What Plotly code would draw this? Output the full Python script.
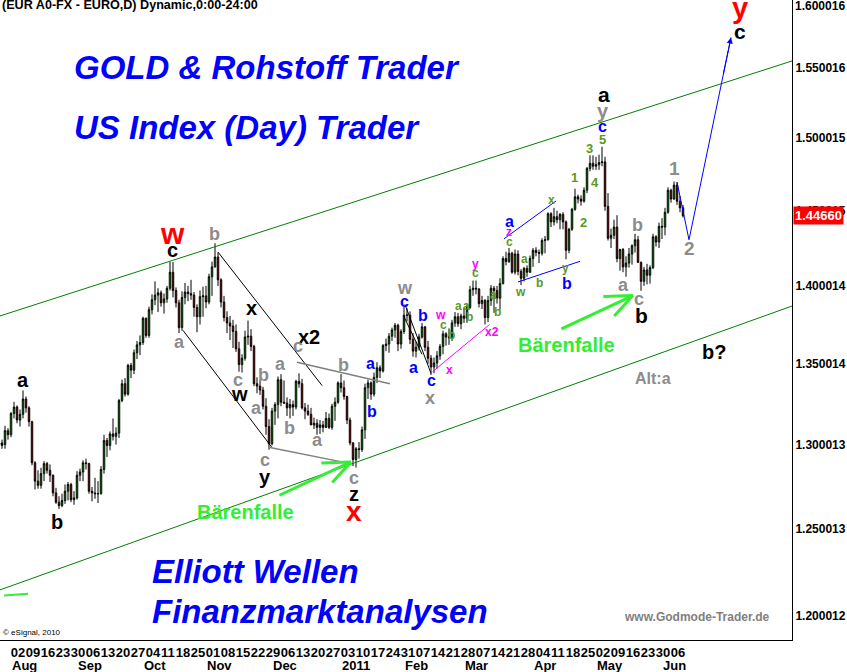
import numpy as np
import pandas as pd
import plotly.graph_objects as go

# ---------------- data ----------------
dates = pd.bdate_range("2010-07-27", "2011-06-10")

opens = [1.3000, 1.3010, 1.3000, 1.3085,
 1.3060, 1.3190, 1.3230, 1.3150, 1.3185, 1.3280, 1.3225, 1.3140, 1.2890, 1.2780,
 1.2755, 1.2825, 1.2885, 1.2845, 1.2815, 1.2710, 1.2655, 1.2635, 1.2665, 1.2720,
 1.2760, 1.2670, 1.2680, 1.2815, 1.2835, 1.2890, 1.2885, 1.2720, 1.2710, 1.2705,
 1.2705, 1.2850, 1.3025, 1.2995, 1.3065, 1.3050, 1.3070, 1.3270, 1.3375, 1.3310,
 1.3490, 1.3460, 1.3570, 1.3620, 1.3635, 1.3790, 1.3680, 1.3845, 1.3910, 1.3940,
 1.3955, 1.3890, 1.3915, 1.3985, 1.4090, 1.3970, 1.3890, 1.3730, 1.3925, 1.3960,
 1.3950, 1.3940, 1.3860, 1.3800, 1.3930, 1.3935, 1.3895, 1.4060, 1.4125, 1.4190,
 1.4040, 1.3895, 1.3795, 1.3760, 1.3740, 1.3705, 1.3595, 1.3495, 1.3535, 1.3670,
 1.3675, 1.3610, 1.3375, 1.3360, 1.3335, 1.3235, 1.3110, 1.3005, 1.3205, 1.3245,
 1.3400, 1.3260, 1.3255, 1.3225, 1.3245, 1.3230, 1.3390, 1.3375, 1.3225, 1.3205,
 1.3185, 1.3120, 1.3130, 1.3105, 1.3120, 1.3105, 1.3160, 1.3105, 1.3235, 1.3260,
 1.3380, 1.3350, 1.3295, 1.3150, 1.3010, 1.2910, 1.2975, 1.2970, 1.3090, 1.3350,
 1.3380, 1.3310, 1.3415, 1.3475, 1.3455, 1.3615, 1.3625, 1.3675, 1.3715, 1.3745,
 1.3625, 1.3705, 1.3810, 1.3810, 1.3655, 1.3580, 1.3605, 1.3670, 1.3735, 1.3605,
 1.3535, 1.3480, 1.3505, 1.3550, 1.3610, 1.3690, 1.3670, 1.3665, 1.3760, 1.3800,
 1.3755, 1.3805, 1.3790, 1.3860, 1.3975, 1.3985, 1.3980, 1.3885, 1.3905, 1.3795,
 1.3905, 1.3985, 1.3970, 1.3920, 1.4015, 1.4180, 1.4160, 1.4215, 1.4090, 1.4210,
 1.4095, 1.4050, 1.4115, 1.4090, 1.4180, 1.4235, 1.4220, 1.4215, 1.4300, 1.4305,
 1.4480, 1.4425, 1.4460, 1.4440, 1.4475, 1.4425, 1.4235, 1.4375, 1.4510, 1.4595,
 1.4580, 1.4565, 1.4640, 1.4790, 1.4825, 1.4805, 1.4815, 1.4830, 1.4835, 1.4530,
 1.4315, 1.4335, 1.4390, 1.4180, 1.4240, 1.4125, 1.4150, 1.4210, 1.4265, 1.4305,
 1.4155, 1.4030, 1.4105, 1.4070, 1.4120, 1.4325, 1.4290, 1.4395, 1.4390, 1.4490,
 1.4640, 1.4580, 1.4675, 1.4565, 1.4520]

highs = [1.3045, 1.3030, 1.3115, 1.3100,
 1.3200, 1.3262, 1.3240, 1.3215, 1.3333, 1.3295, 1.3235, 1.3145, 1.2900, 1.2845,
 1.2860, 1.2900, 1.2895, 1.2880, 1.2820, 1.2740, 1.2690, 1.2705, 1.2760, 1.2775,
 1.2770, 1.2720, 1.2840, 1.2855, 1.2905, 1.2915, 1.2890, 1.2745, 1.2800, 1.2780,
 1.2870, 1.3060, 1.3040, 1.3080, 1.3160, 1.3105, 1.3280, 1.3400, 1.3410, 1.3500,
 1.3505, 1.3590, 1.3645, 1.3680, 1.3800, 1.3795, 1.3865, 1.3945, 1.4030, 1.3985,
 1.3970, 1.3950, 1.4000, 1.4160, 1.4157, 1.3990, 1.3910, 1.3965, 1.4020, 1.4000,
 1.4040, 1.3960, 1.3880, 1.3970, 1.3995, 1.4000, 1.4080, 1.4160, 1.4282, 1.4220,
 1.4050, 1.3935, 1.3835, 1.3805, 1.3780, 1.3750, 1.3640, 1.3560, 1.3710, 1.3775,
 1.3720, 1.3620, 1.3415, 1.3395, 1.3355, 1.3285, 1.3155, 1.3225, 1.3260, 1.3420,
 1.3435, 1.3395, 1.3290, 1.3280, 1.3270, 1.3400, 1.3440, 1.3405, 1.3255, 1.3245,
 1.3225, 1.3165, 1.3155, 1.3150, 1.3145, 1.3200, 1.3190, 1.3250, 1.3290, 1.3390,
 1.3435, 1.3395, 1.3300, 1.3165, 1.3015, 1.2985, 1.3015, 1.3110, 1.3375, 1.3400,
 1.3390, 1.3445, 1.3510, 1.3490, 1.3625, 1.3660, 1.3695, 1.3730, 1.3760, 1.3755,
 1.3720, 1.3862, 1.3855, 1.3835, 1.3695, 1.3640, 1.3690, 1.3760, 1.3740, 1.3645,
 1.3555, 1.3540, 1.3580, 1.3625, 1.3710, 1.3700, 1.3725, 1.3780, 1.3830, 1.3825,
 1.3820, 1.3860, 1.3880, 1.4000, 1.4035, 1.4035, 1.3985, 1.3935, 1.3915, 1.3935,
 1.4005, 1.4000, 1.4000, 1.4050, 1.4195, 1.4225, 1.4250, 1.4225, 1.4240, 1.4235,
 1.4110, 1.4125, 1.4135, 1.4200, 1.4250, 1.4255, 1.4240, 1.4315, 1.4330, 1.4490,
 1.4490, 1.4520, 1.4500, 1.4485, 1.4490, 1.4435, 1.4385, 1.4520, 1.4650, 1.4610,
 1.4605, 1.4660, 1.4800, 1.4880, 1.4880, 1.4870, 1.4885, 1.4940, 1.4870, 1.4620,
 1.4380, 1.4440, 1.4470, 1.4245, 1.4250, 1.4195, 1.4250, 1.4275, 1.4345, 1.4330,
 1.4160, 1.4125, 1.4145, 1.4135, 1.4345, 1.4335, 1.4420, 1.4450, 1.4520, 1.4660,
 1.4650, 1.4700, 1.4695, 1.4600, 1.4540]

lows = [1.2960, 1.2975, 1.2975, 1.3030,
 1.3045, 1.3160, 1.3130, 1.3110, 1.3160, 1.3195, 1.3110, 1.2875, 1.2730, 1.2735,
 1.2735, 1.2780, 1.2825, 1.2775, 1.2690, 1.2645, 1.2615, 1.2625, 1.2645, 1.2665,
 1.2655, 1.2640, 1.2670, 1.2780, 1.2780, 1.2850, 1.2705, 1.2660, 1.2675, 1.2650,
 1.2700, 1.2825, 1.2925, 1.2965, 1.3025, 1.3000, 1.3040, 1.3260, 1.3295, 1.3300,
 1.3410, 1.3435, 1.3530, 1.3555, 1.3620, 1.3665, 1.3665, 1.3815, 1.3875, 1.3830,
 1.3865, 1.3820, 1.3890, 1.3970, 1.3925, 1.3860, 1.3695, 1.3710, 1.3880, 1.3900,
 1.3910, 1.3800, 1.3700, 1.3750, 1.3800, 1.3855, 1.3880, 1.3935, 1.4120, 1.4000,
 1.3860, 1.3770, 1.3695, 1.3650, 1.3600, 1.3575, 1.3450, 1.3445, 1.3520, 1.3620,
 1.3580, 1.3360, 1.3315, 1.3305, 1.3215, 1.3060, 1.2969, 1.2995, 1.3120, 1.3160,
 1.3235, 1.3250, 1.3175, 1.3160, 1.3175, 1.3215, 1.3350, 1.3215, 1.3155, 1.3175,
 1.3120, 1.3095, 1.3060, 1.3065, 1.3075, 1.3100, 1.3095, 1.3090, 1.3145, 1.3250,
 1.3320, 1.3275, 1.3125, 1.2995, 1.2870, 1.2861, 1.2915, 1.2955, 1.3035, 1.3280,
 1.3275, 1.3295, 1.3380, 1.3410, 1.3445, 1.3580, 1.3570, 1.3645, 1.3665, 1.3580,
 1.3595, 1.3690, 1.3770, 1.3625, 1.3545, 1.3540, 1.3585, 1.3660, 1.3580, 1.3500,
 1.3430, 1.3440, 1.3470, 1.3525, 1.3560, 1.3615, 1.3620, 1.3645, 1.3735, 1.3735,
 1.3720, 1.3760, 1.3760, 1.3850, 1.3935, 1.3945, 1.3860, 1.3850, 1.3750, 1.3765,
 1.3870, 1.3825, 1.3885, 1.3845, 1.4010, 1.4135, 1.4150, 1.4080, 1.4075, 1.4070,
 1.4005, 1.4030, 1.4060, 1.4085, 1.4125, 1.4195, 1.4150, 1.4200, 1.4215, 1.4300,
 1.4390, 1.4400, 1.4415, 1.4375, 1.4375, 1.4175, 1.4215, 1.4365, 1.4500, 1.4550,
 1.4535, 1.4555, 1.4620, 1.4770, 1.4780, 1.4780, 1.4780, 1.4805, 1.4500, 1.4300,
 1.4250, 1.4310, 1.4155, 1.4100, 1.4090, 1.4060, 1.4120, 1.4140, 1.4220, 1.4150,
 1.3968, 1.4000, 1.4010, 1.4015, 1.4110, 1.4260, 1.4250, 1.4310, 1.4335, 1.4480,
 1.4555, 1.4575, 1.4540, 1.4490, 1.4455]

closes = [1.3010, 1.2995, 1.3085, 1.3060,
 1.3190, 1.3230, 1.3150, 1.3185, 1.3280, 1.3225, 1.3140, 1.2890, 1.2780, 1.2755,
 1.2825, 1.2885, 1.2845, 1.2815, 1.2710, 1.2655, 1.2635, 1.2665, 1.2720, 1.2760,
 1.2670, 1.2680, 1.2815, 1.2835, 1.2890, 1.2885, 1.2720, 1.2710, 1.2705, 1.2705,
 1.2850, 1.3025, 1.2995, 1.3065, 1.3050, 1.3070, 1.3270, 1.3375, 1.3310, 1.3490,
 1.3460, 1.3570, 1.3620, 1.3635, 1.3790, 1.3680, 1.3845, 1.3910, 1.3940, 1.3955,
 1.3890, 1.3915, 1.3985, 1.4090, 1.3970, 1.3890, 1.3730, 1.3925, 1.3960, 1.3950,
 1.3940, 1.3860, 1.3800, 1.3930, 1.3935, 1.3895, 1.4060, 1.4125, 1.4190, 1.4040,
 1.3895, 1.3795, 1.3760, 1.3740, 1.3705, 1.3595, 1.3495, 1.3535, 1.3670, 1.3675,
 1.3610, 1.3375, 1.3360, 1.3335, 1.3235, 1.3110, 1.3005, 1.3205, 1.3245, 1.3400,
 1.3260, 1.3255, 1.3225, 1.3245, 1.3230, 1.3390, 1.3375, 1.3225, 1.3205, 1.3185,
 1.3120, 1.3130, 1.3105, 1.3120, 1.3105, 1.3160, 1.3105, 1.3235, 1.3260, 1.3380,
 1.3350, 1.3295, 1.3150, 1.3010, 1.2910, 1.2975, 1.2970, 1.3090, 1.3350, 1.3380,
 1.3310, 1.3415, 1.3475, 1.3455, 1.3615, 1.3625, 1.3675, 1.3715, 1.3745, 1.3625,
 1.3705, 1.3810, 1.3810, 1.3655, 1.3580, 1.3605, 1.3670, 1.3735, 1.3605, 1.3535,
 1.3480, 1.3505, 1.3550, 1.3610, 1.3690, 1.3670, 1.3665, 1.3760, 1.3800, 1.3755,
 1.3805, 1.3790, 1.3860, 1.3975, 1.3985, 1.3980, 1.3885, 1.3905, 1.3795, 1.3905,
 1.3985, 1.3970, 1.3920, 1.4015, 1.4180, 1.4160, 1.4215, 1.4090, 1.4210, 1.4095,
 1.4050, 1.4115, 1.4090, 1.4180, 1.4235, 1.4220, 1.4215, 1.4300, 1.4305, 1.4480,
 1.4425, 1.4460, 1.4440, 1.4475, 1.4425, 1.4235, 1.4375, 1.4510, 1.4595, 1.4580,
 1.4565, 1.4640, 1.4790, 1.4825, 1.4805, 1.4815, 1.4830, 1.4835, 1.4530, 1.4315,
 1.4335, 1.4390, 1.4180, 1.4240, 1.4125, 1.4150, 1.4210, 1.4265, 1.4305, 1.4155,
 1.4030, 1.4105, 1.4070, 1.4120, 1.4325, 1.4290, 1.4395, 1.4390, 1.4490, 1.4640,
 1.4580, 1.4675, 1.4565, 1.4520, 1.4466]

price_ticks = [1.200012, 1.250013, 1.300013, 1.350014, 1.400014,
               1.450015, 1.500015, 1.550016]
price_tick_labels = ["1.200012", "1.250013", "1.300013", "1.350014", "1.400014",
                     "1.450015", "1.500015", "1.550016"]
top_tick_label = "1.600016"
last_price = 1.44660

# trading-day index (0 = 2 Aug 2010)
base = list(dates).index(pd.Timestamp("2010-08-02"))
xi = np.arange(len(dates)) - base

# drawn trend lines (trading-day index, price)
upper_channel_x, upper_channel_y = [-3.67, 260.33], [1.3805, 1.5551]
lower_channel_x, lower_channel_y = [-3.67, 260.33], [1.2147, 1.3869]
lime_stub_x, lime_stub_y = [-2.3, 5.7], [1.2115, 1.2125]
black_lines = [([69.0, 103.7], [1.4223, 1.3363]),
               ([57.3, 87.0], [1.3713, 1.2982])]
gray_lines = [([95.3, 126.3], [1.3510, 1.3375]),
              ([86.3, 112.3], [1.2982, 1.2888])]
feb_black_lines = [([131.3, 140.0], [1.3880, 1.3440]),
                   ([131.0, 137.0], [1.3800, 1.3560])]
magenta_lines = [([140.5, 159.5], [1.3450, 1.3750])]
blue_lines = [([164.3, 181.7], [1.4311, 1.4567]),
              ([169.0, 189.7], [1.4026, 1.4162])]
projection_x = [222.0, 226.0, 240.0]
projection_y = [1.4696, 1.4305, 1.5722]

BK, GY, BU, GN, MG, RD = "#000000", "#8C8C8C", "#0000FF", "#5A9A1C", "#FF00FF", "#FF0000"
# wave labels: text, trading-day index, price, colour, size
wave_labels = [
    ("a", 4.0, 1.3400, BK, 20), ("b", 15.3, 1.2540, BK, 20),
    ("w", 53.7, 1.4345, RD, 30), ("c", 53.7, 1.4235, BK, 20),
    ("b", 67.7, 1.4345, GY, 18), ("a", 56.3, 1.3637, GY, 18),
    ("x", 80.0, 1.3855, BK, 20), ("x2", 99.3, 1.3670, BK, 20),
    ("c", 95.7, 1.3610, GY, 18), ("a", 89.7, 1.3500, GY, 18),
    ("c", 75.7, 1.3400, GY, 18), ("w", 76.3, 1.3312, BK, 20),
    ("b", 84.3, 1.3430, GY, 18), ("a", 81.7, 1.3225, GY, 18),
    ("b", 92.7, 1.3100, GY, 18), ("a", 102.3, 1.3025, GY, 18),
    ("b", 110.7, 1.3490, GY, 18), ("a", 119.7, 1.3500, BU, 16),
    ("b", 120.3, 1.3205, BU, 16), ("c", 84.7, 1.2905, GY, 18),
    ("y", 84.7, 1.2805, BK, 20), ("c", 114.3, 1.2800, GY, 18),
    ("z", 114.3, 1.2705, BK, 20), ("x", 114.3, 1.2600, RD, 28),
    ("w", 131.3, 1.3987, GY, 18), ("c", 131.3, 1.3900, BU, 16),
    ("b", 137.3, 1.3805, BU, 16), ("a", 134.0, 1.3475, BU, 16),
    ("c", 140.3, 1.3395, BU, 16), ("x", 139.7, 1.3287, GY, 18),
    ("x", 146.3, 1.3460, MG, 12), ("w", 143.3, 1.3810, MG, 12),
    ("c", 144.3, 1.3745, GN, 12), ("a", 149.0, 1.3870, GN, 12),
    ("b", 146.7, 1.3680, GN, 12), ("y", 154.7, 1.4145, MG, 12),
    ("c", 154.7, 1.4085, GN, 12), ("a", 151.7, 1.3870, GN, 12),
    ("b", 152.7, 1.3800, GN, 12), ("a", 160.7, 1.3940, GN, 12),
    ("b", 162.0, 1.3830, GN, 12), ("x2", 160.3, 1.3700, MG, 12),
    ("a", 166.0, 1.4425, BU, 16), ("z", 166.0, 1.4360, MG, 12),
    ("c", 166.0, 1.4293, GN, 12), ("a", 171.0, 1.4180, GN, 12),
    ("b", 176.0, 1.4020, GN, 12), ("w", 169.7, 1.3960, GN, 12),
    ("x", 180.3, 1.4573, GN, 12), ("y", 184.7, 1.4120, GN, 12),
    ("b", 185.3, 1.4013, BU, 16),
    ("1", 187.7, 1.4724, GN, 13), ("2", 190.7, 1.4424, GN, 13),
    ("3", 192.7, 1.4931, GN, 13), ("4", 194.7, 1.4696, GN, 13),
    ("5", 197.0, 1.4994, GN, 13), ("c", 197.0, 1.5079, BU, 16),
    ("y", 197.3, 1.5192, GY, 20), ("a", 197.7, 1.5310, BK, 21),
    ("a", 204.3, 1.4007, GY, 18), ("b", 208.7, 1.4404, GY, 18),
    ("c", 209.3, 1.3913, GY, 18), ("b", 210.3, 1.3806, BK, 21),
    ("1", 221.3, 1.4786, GY, 19), ("2", 226.3, 1.4245, GY, 19),
    ("y", 243.0, 1.5941, RD, 29), ("c", 243.0, 1.5763, BK, 21),
    ("b?", 234.3, 1.3575, BK, 20), ("Alt:a", 214.0, 1.3410, GY, 16),
]
# "Bärenfalle" notes: text position and arrow tip
trap_text = [(78.3, 1.2595), (185.3, 1.3619)]
trap_arrow_head = [(113.3, 1.2895), (207.3, 1.3937)]
# arrow strokes drawn from each tip: shaft and two open head wings (px offsets)
trap_strokes = [(-73, 34), (-31, 1), (-20, 22)]

FONT = "Liberation Sans, Arial, sans-serif"
PW, PH = 792, 640  # plot area in px

fig = go.Figure()

fig.add_trace(go.Scatter(x=upper_channel_x, y=upper_channel_y, mode="lines",
                         line=dict(color="#008000", width=1), hoverinfo="skip"))
fig.add_trace(go.Scatter(x=lower_channel_x, y=lower_channel_y, mode="lines",
                         line=dict(color="#008000", width=1), hoverinfo="skip"))
fig.add_trace(go.Scatter(x=lime_stub_x, y=lime_stub_y, mode="lines",
                         line=dict(color="#33EE33", width=2), hoverinfo="skip"))
for lx, ly in black_lines + feb_black_lines:
    fig.add_trace(go.Scatter(x=lx, y=ly, mode="lines",
                             line=dict(color="#000000", width=1), hoverinfo="skip"))
for lx, ly in gray_lines:
    fig.add_trace(go.Scatter(x=lx, y=ly, mode="lines",
                             line=dict(color="#808080", width=1.5), hoverinfo="skip"))
for lx, ly in magenta_lines:
    fig.add_trace(go.Scatter(x=lx, y=ly, mode="lines",
                             line=dict(color=MG, width=1), hoverinfo="skip"))
for lx, ly in blue_lines:
    fig.add_trace(go.Scatter(x=lx, y=ly, mode="lines",
                             line=dict(color=BU, width=1), hoverinfo="skip"))
fig.add_trace(go.Scatter(x=projection_x, y=projection_y, mode="lines",
                         line=dict(color=BU, width=1), hoverinfo="skip"))

fig.add_trace(go.Candlestick(
    x=xi, open=opens, high=highs, low=lows, close=closes,
    increasing=dict(line=dict(color="#000000", width=1), fillcolor="#00E000"),
    decreasing=dict(line=dict(color="#000000", width=1), fillcolor="#E00000"),
    whiskerwidth=0, hoverinfo="skip"))

ann = []
lg = np.log10
for t, x, p, c, s in wave_labels:
    ann.append(dict(x=x, y=lg(p), xref="x", yref="y", text=f"<b>{t}</b>",
                    showarrow=False, font=dict(family=FONT, size=s, color=c)))
for (x, p) in trap_text:
    ann.append(dict(x=x, y=lg(p), xref="x", yref="y", text="<b>Bärenfalle</b>",
                    showarrow=False, font=dict(family=FONT, size=20, color="#33EE33")))
for (x, p) in trap_arrow_head:
    for (ox, oy) in trap_strokes:
        ann.append(dict(x=x, y=lg(p), xref="x", yref="y", text="", showarrow=True,
                        arrowhead=0, arrowwidth=3, arrowcolor="#33EE33",
                        ax=ox, ay=oy, standoff=0))
ann.append(dict(x=projection_x[-1], y=lg(projection_y[-1]), xref="x", yref="y",
                text="", showarrow=True, arrowhead=2, arrowsize=1.2, arrowwidth=1,
                arrowcolor=BU, ax=-8, ay=38, standoff=0))

def pp(x, y):
    return x / PW, 1 - y / PH

for txt, x, y in [("GOLD & Rohstoff Trader", 72, 67),
                  ("US Index (Day) Trader", 72, 127),
                  ("Elliott Wellen", 150, 571),
                  ("Finanzmarktanalysen", 150, 611)]:
    px_, py_ = pp(x, y)
    ann.append(dict(x=px_, y=py_, xref="paper", yref="paper", xanchor="left",
                    yanchor="middle", text=f"<b><i>{txt}</i></b>", showarrow=False,
                    font=dict(family=FONT, size=33, color="#0000FF")))

hx, hy = pp(0, 5)
ann.append(dict(x=hx, y=hy, xref="paper", yref="paper", xanchor="left", yanchor="middle",
                text="<b>(EUR A0-FX - EURO,D) Dynamic,0:00-24:00</b>", showarrow=False,
                font=dict(family=FONT, size=12.6, color="#000000")))
wx, wy = pp(772, 617)
ann.append(dict(x=wx, y=wy, xref="paper", yref="paper", xanchor="right", yanchor="middle",
                text="<b>www.Godmode-Trader.de</b>", showarrow=False,
                font=dict(family=FONT, size=12, color="#808080")))
ex, ey = pp(1, 632)
ann.append(dict(x=ex, y=ey, xref="paper", yref="paper", xanchor="left", yanchor="middle",
                text="© eSignal, 2010", showarrow=False,
                font=dict(family=FONT, size=8, color="#000000")))
# top price label (sits at the very top edge of the scale)
ann.append(dict(x=1, y=1, xref="paper", yref="paper", xanchor="left", yanchor="top",
                xshift=1, yshift=3, text=f"<b>{top_tick_label}</b>", showarrow=False,
                font=dict(family=FONT, size=12, color="#000000")))
# last price marker
ann.append(dict(x=1, y=lg(last_price), xref="paper", yref="y", xanchor="left",
                yanchor="middle", xshift=1, text=f"<b>{last_price:.5f}</b>",
                showarrow=False, bgcolor="#FF0000", borderpad=1,
                font=dict(family=FONT, size=13, color="#FFFFFF")))

# month labels (left-aligned at first trading day of each month)
s = pd.Series(xi, index=dates)
first_days = s.groupby([dates.year, dates.month]).head(1)
first_days = first_days[first_days.index >= pd.Timestamp("2010-08-01")]
for d, x in first_days.items():
    lab = "2011" if (d.year == 2011 and d.month == 1) else d.strftime("%b")
    ann.append(dict(x=x - 0.4, y=-25 / PH, xref="x", yref="paper", xanchor="left",
                    yanchor="middle", text=f"<b>{lab}</b>", showarrow=False,
                    font=dict(family=FONT, size=13, color="#000000")))

mondays = [(x, d.strftime("%d")) for d, x in s.items()
           if d.weekday() == 0 and d >= pd.Timestamp("2010-08-02")]
tickvals = [x + 2.3 for x, _ in mondays]
ticktext = [t for _, t in mondays]

fig.update_layout(
    width=847, height=672, showlegend=False,
    margin=dict(l=0, r=55, t=0, b=32),
    paper_bgcolor="#FFFFFF", plot_bgcolor="#FFFFFF",
    font=dict(family=FONT, color="#000000"),
    annotations=ann,
    xaxis=dict(range=[-3.67, 260.33], showgrid=False, zeroline=False,
               showline=True, linecolor="#000000", linewidth=1, ticks="",
               tickvals=tickvals, ticktext=ticktext, tickangle=0,
               tickfont=dict(family=FONT, size=13, color="#000000", weight="bold"),
               rangeslider=dict(visible=False), automargin=False, fixedrange=True),
    yaxis=dict(type="log", range=[np.log10(1.18661), np.log10(1.6000)],
               side="right", showgrid=False, zeroline=False, showline=True,
               linecolor="#000000", linewidth=1, ticks="",
               tickvals=price_ticks, ticktext=price_tick_labels,
               tickfont=dict(family=FONT, size=12, color="#000000", weight="bold"),
               automargin=False, fixedrange=True),
)

fig.write_html("out.html", config={"displayModeBar": False},
               post_script="document.body.style.margin='0';document.body.style.padding='0';")
